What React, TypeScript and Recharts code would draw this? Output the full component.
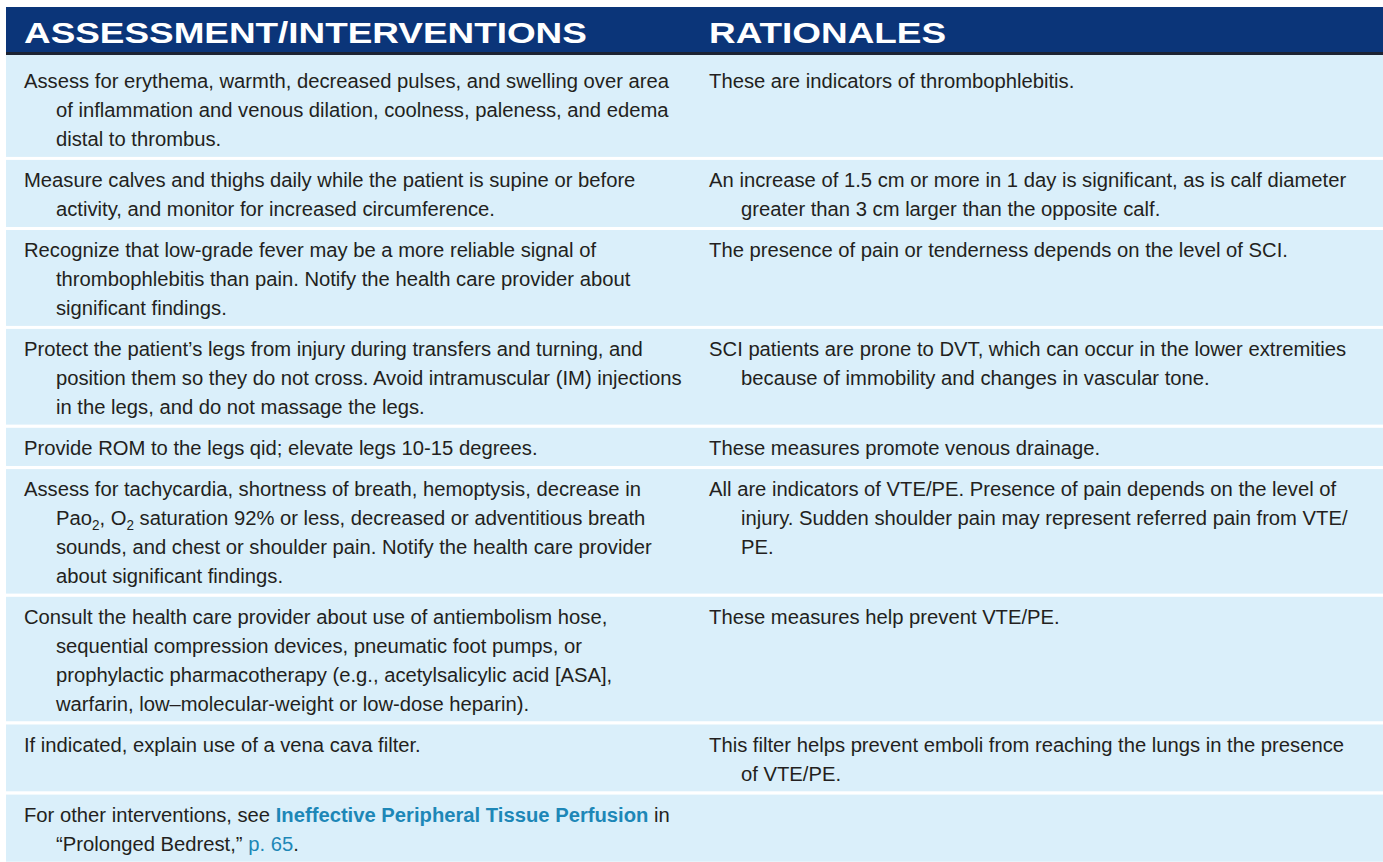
import { Bar, BarChart, XAxis, YAxis } from "recharts";

// column headings
const headers = ["ASSESSMENT/INTERVENTIONS", "RATIONALES"];

// one entry per table row, already broken into printed lines
// ~x~ = subscript, **x** = bold cross-reference, @@x@@ = page link
const interventions: string[][] = [
  [
    "Assess for erythema, warmth, decreased pulses, and swelling over area",
    "of inflammation and venous dilation, coolness, paleness, and edema",
    "distal to thrombus.",
  ],
  [
    "Measure calves and thighs daily while the patient is supine or before",
    "activity, and monitor for increased circumference.",
  ],
  [
    "Recognize that low-grade fever may be a more reliable signal of",
    "thrombophlebitis than pain. Notify the health care provider about",
    "significant findings.",
  ],
  [
    "Protect the patient’s legs from injury during transfers and turning, and",
    "position them so they do not cross. Avoid intramuscular (IM) injections",
    "in the legs, and do not massage the legs.",
  ],
  ["Provide ROM to the legs qid; elevate legs 10-15 degrees."],
  [
    "Assess for tachycardia, shortness of breath, hemoptysis, decrease in",
    "Pao~2~, O~2~ saturation 92% or less, decreased or adventitious breath",
    "sounds, and chest or shoulder pain. Notify the health care provider",
    "about significant findings.",
  ],
  [
    "Consult the health care provider about use of antiembolism hose,",
    "sequential compression devices, pneumatic foot pumps, or",
    "prophylactic pharmacotherapy (e.g., acetylsalicylic acid [ASA],",
    "warfarin, low–molecular-weight or low-dose heparin).",
  ],
  ["If indicated, explain use of a vena cava filter."],
  [
    "For other interventions, see **Ineffective Peripheral Tissue Perfusion** in",
    "“Prolonged Bedrest,” @@p. 65@@.",
  ],
];

const rationales: string[][] = [
  ["These are indicators of thrombophlebitis."],
  [
    "An increase of 1.5 cm or more in 1 day is significant, as is calf diameter",
    "greater than 3 cm larger than the opposite calf.",
  ],
  ["The presence of pain or tenderness depends on the level of SCI."],
  [
    "SCI patients are prone to DVT, which can occur in the lower extremities",
    "because of immobility and changes in vascular tone.",
  ],
  ["These measures promote venous drainage."],
  [
    "All are indicators of VTE/PE. Presence of pain depends on the level of",
    "injury. Sudden shoulder pain may represent referred pain from VTE/",
    "PE.",
  ],
  ["These measures help prevent VTE/PE."],
  [
    "This filter helps prevent emboli from reaching the lungs in the presence",
    "of VTE/PE.",
  ],
  [],
];

const WIDTH = 1383;
const HEIGHT = 862;
const TOP = 7;
const LEFT = 6;

const HEADER_H = 45;
const RULE_H = 3;
const LINE_H = 28.8;
const ROW_PAD = 9.5;
const ROW_GAP = 3;
const FIRST_ROW_EXTRA = 6;
const BASELINE = 27.3;
const HEAD_BASELINE = 36;

const COL_SPLIT = 0.4975;
const TEXT_PAD = 18;
const INDENT = 32;

const FONT = '"Liberation Sans", Arial, sans-serif';
const BODY_SIZE = 21;
const BODY_STRETCH = 0.963;
const HEAD_SIZE = 30;
const HEAD_STRETCH = 1.23;

const HEADER_BG = "#0b3579";
const RULE_COLOR = "#1c2333";
const ROW_BG = "#daeffa";
const TEXT_COLOR = "#231f20";
const LINK_COLOR = "#1d87b7";

const TOTAL = HEIGHT - TOP;

// each row's height follows its number of printed lines; stacked top-down as one column
const rowHeights = interventions.map((left, i) => {
  const n = Math.max(left.length, (rationales[i] ?? []).length, 1);
  return ROW_PAD + LINE_H * n + (i === 0 ? FIRST_ROW_EXTRA : 0);
});

const tableData = [
  (() => {
    const d: Record<string, number | string> = { name: "table", header: HEADER_H / TOTAL, rule: RULE_H / TOTAL };
    let used = HEADER_H + RULE_H;
    rowHeights.forEach((h, i) => {
      const hh = Math.min(h, TOTAL - used);
      d[`row${i}`] = hh / TOTAL;
      used += hh;
      if (i < rowHeights.length - 1) {
        d[`gap${i}`] = ROW_GAP / TOTAL;
        used += ROW_GAP;
      }
    });
    return d;
  })(),
];

function RichLine({ x, y, text }: { x: number; y: number; text: string }) {
  const parts = text.split(/(~[^~]+~|\*\*[^*]+\*\*|@@[^@]+@@)/).filter(Boolean);
  let shift = 0;
  return (
    <text
      transform={`translate(${x},${y}) scale(${BODY_STRETCH},1)`}
      fontFamily={FONT}
      fontSize={BODY_SIZE}
      fill={TEXT_COLOR}
    >
      {parts.map((p, k) => {
        if (p.startsWith("~")) {
          const dy = 5 - shift;
          shift = 5;
          return (
            <tspan key={k} dy={dy} fontSize={14}>
              {p.slice(1, -1)}
            </tspan>
          );
        }
        const dy = -shift;
        shift = 0;
        if (p.startsWith("**")) {
          return (
            <tspan key={k} dy={dy} fill={LINK_COLOR} fontWeight="bold">
              {p.slice(2, -2)}
            </tspan>
          );
        }
        if (p.startsWith("@@")) {
          return (
            <tspan key={k} dy={dy} fill={LINK_COLOR}>
              {p.slice(2, -2)}
            </tspan>
          );
        }
        return (
          <tspan key={k} dy={dy}>
            {p}
          </tspan>
        );
      })}
    </text>
  );
}

function CellLines({ x, y, lines }: { x: number; y: number; lines: string[] }) {
  return (
    <g>
      {lines.map((line, i) => (
        <RichLine key={i} x={x + (i > 0 ? INDENT : 0)} y={y + i * LINE_H} text={line} />
      ))}
    </g>
  );
}

const box = (p: any) => ({
  x: p.x,
  y: Math.min(p.y, p.y + p.height),
  w: p.width,
  h: Math.abs(p.height),
});

function HeaderShape(p: any) {
  const b = box(p);
  return (
    <g>
      <rect x={b.x} y={b.y} width={b.w} height={b.h} fill={HEADER_BG} />
      {headers.map((h, i) => {
        const cx = b.x + (i === 0 ? 0 : b.w * COL_SPLIT) + TEXT_PAD;
        return (
          <text
            key={h}
            transform={`translate(${cx},${b.y + HEAD_BASELINE}) scale(${HEAD_STRETCH},1)`}
            fontFamily={FONT}
            fontWeight="bold"
            fontSize={HEAD_SIZE}
            fill="#ffffff"
          >
            {h}
          </text>
        );
      })}
    </g>
  );
}

function rowShape(i: number) {
  return (p: any) => {
    const b = box(p);
    const base = b.y + BASELINE + (i === 0 ? FIRST_ROW_EXTRA : 0);
    return (
      <g>
        <rect x={b.x} y={b.y} width={b.w} height={b.h} fill={ROW_BG} />
        <CellLines x={b.x + TEXT_PAD} y={base} lines={interventions[i]} />
        <CellLines x={b.x + b.w * COL_SPLIT + TEXT_PAD} y={base} lines={rationales[i] ?? []} />
      </g>
    );
  };
}

export default function App() {
  return (
    <div style={{ position: "absolute", left: 0, top: 0, background: "#fff" }}>
      <BarChart
        width={WIDTH}
        height={HEIGHT}
        data={tableData}
        margin={{ top: TOP, right: 0, bottom: 0, left: LEFT }}
        barCategoryGap={0}
        barGap={0}
      >
        <XAxis dataKey="name" type="category" hide />
        <YAxis type="number" domain={[0, 1]} allowDataOverflow reversed hide />

        <Bar dataKey="header" stackId="t" shape={HeaderShape} isAnimationActive={false} />
        <Bar dataKey="rule" stackId="t" fill={RULE_COLOR} isAnimationActive={false} />
        {interventions.flatMap((_, i) => [
          <Bar key={`row${i}`} dataKey={`row${i}`} stackId="t" shape={rowShape(i)} isAnimationActive={false} />,
          <Bar key={`gap${i}`} dataKey={`gap${i}`} stackId="t" fill="#ffffff" isAnimationActive={false} />,
        ])}
      </BarChart>
    </div>
  );
}
